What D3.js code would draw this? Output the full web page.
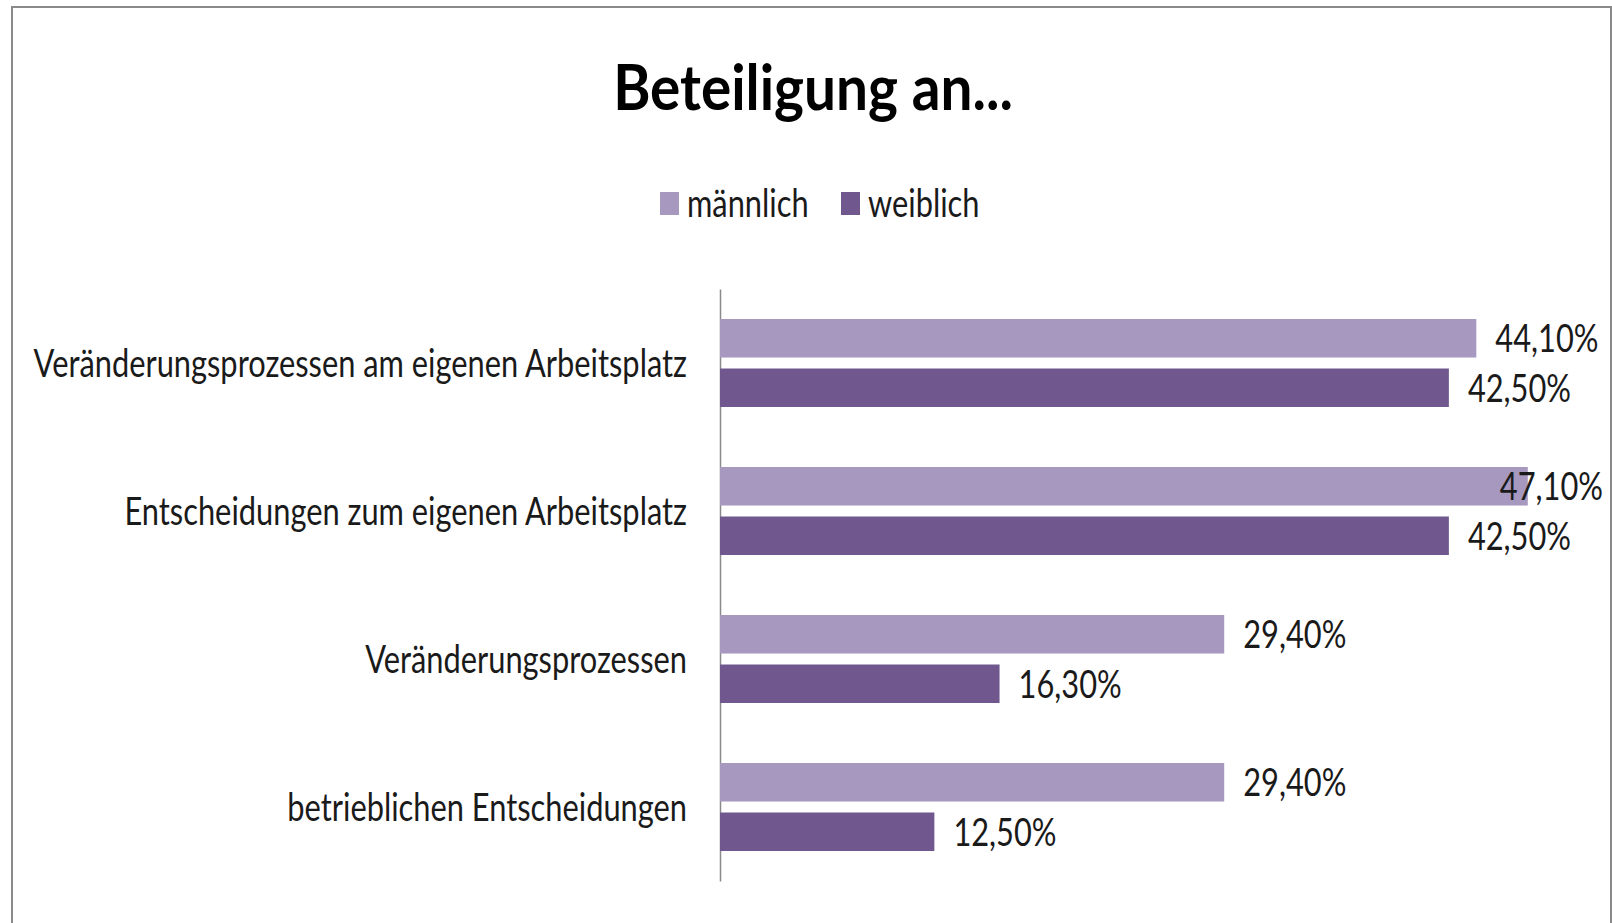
<!DOCTYPE html>
<html><head><meta charset="utf-8">
<script src="https://cdn.jsdelivr.net/npm/d3@7"></script>
<style>
html,body{margin:0;padding:0;background:#fff;}
svg{display:block;}
text{font-family:Lato,"Noto Sans",sans-serif;fill:#1a1a1a;}
</style></head>
<body>
<svg id="chart" width="1612" height="923"></svg>
<script>
const title = "Beteiligung an...";
const categories = [
  "Veränderungsprozessen am eigenen Arbeitsplatz",
  "Entscheidungen zum eigenen Arbeitsplatz",
  "Veränderungsprozessen",
  "betrieblichen Entscheidungen"
];
const seriesNames = ["männlich", "weiblich"];
const maleValues = [44.1, 47.1, 29.4, 29.4];
const femaleValues = [42.5, 42.5, 16.3, 12.5];
const seriesColors = ["#a698bf", "#70588f"];

const K = 0.79; // horizontal condensing of text
function condense(sel, k) {
  sel.each(function () {
    const w = this.getComputedTextLength();
    d3.select(this).attr("textLength", w * (k || K)).attr("lengthAdjust", "spacingAndGlyphs");
  });
}

const svg = d3.select("#chart");
// frame
svg.append("path").attr("d", "M12,923 V7 H1611 V923")
  .attr("fill", "none").attr("stroke", "#8a8a8a").attr("stroke-width", 2);

// title
svg.append("text").attr("x", 813).attr("y", 110).attr("text-anchor", "middle")
  .style("font-size", "63px").style("font-weight", 700).style("fill", "#000")
  .text(title).call(condense, 0.9);

const data = categories.map((c, i) => ({ cat: c, vals: [maleValues[i], femaleValues[i]] }));

const x = d3.scaleLinear().domain([0, 50]).range([720, 1577.5]);
const y = d3.scaleBand().domain(categories).range([289, 881]).padding(0);
const inner = d3.scaleBand().domain(seriesNames).range([30, 118]).paddingInner(0.222).paddingOuter(0);
const labelRightLimit = 1603;

// axis
const ax = svg.append("g").attr("transform", "translate(720,0)")
  .call(d3.axisLeft(y).tickSize(0).tickSizeOuter(0).tickPadding(33));
ax.select(".domain").attr("stroke", "#8a8a8a").attr("stroke-width", 1.5);
ax.selectAll(".tick text").attr("font-family", null).attr("font-size", null).attr("dy", "0.36em")
  .style("font-size", "39px").style("fill", "#1a1a1a").call(condense);

// bars
const groups = svg.selectAll("g.cat").data(data).join("g").attr("class", "cat")
  .attr("transform", d => `translate(0,${y(d.cat)})`);
groups.selectAll("rect").data(d => d.vals.map((v, j) => ({ v, s: seriesNames[j], j })))
  .join("rect")
  .attr("x", x(0)).attr("y", d => inner(d.s))
  .attr("width", d => x(d.v) - x(0)).attr("height", inner.bandwidth())
  .attr("fill", d => seriesColors[d.j]);
groups.selectAll("text.val").data(d => d.vals.map((v, j) => ({ v, s: seriesNames[j], j })))
  .join("text").attr("class", "val")
  .attr("x", d => x(d.v) + 19).attr("y", d => inner(d.s) + inner.bandwidth() / 2)
  .attr("dy", "0.36em").style("font-size", "39px")
  .text(d => d.v.toFixed(2).replace(".", ",") + "%").call(condense)
  .each(function (d) {
    const w = +this.getAttribute("textLength");
    const x0 = x(d.v) + 19;
    if (x0 + w > labelRightLimit) d3.select(this).attr("x", labelRightLimit - w);
  });

// legend
const legendX = [660, 841];
const lg = svg.selectAll("g.leg").data(seriesNames).join("g").attr("class", "leg")
  .attr("transform", (d, i) => `translate(${legendX[i]},192)`);
lg.append("rect").attr("width", 19).attr("height", 23).attr("fill", (d, i) => seriesColors[i]);
lg.append("text").attr("x", 27).attr("y", 25).style("font-size", "39px").text(d => d).call(condense);
</script>
</body></html>
